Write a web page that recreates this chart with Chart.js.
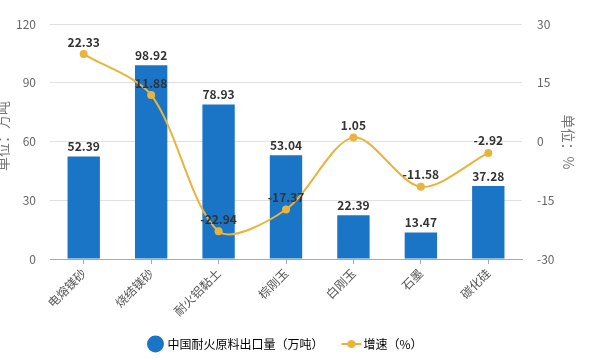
<!DOCTYPE html>
<html><head><meta charset="utf-8">
<script src="https://cdn.jsdelivr.net/npm/chart.js@4/dist/chart.umd.min.js"></script>
<style>html,body{margin:0;padding:0;background:#fff}#wrap{width:592px;height:360px}</style>
</head><body><div id="wrap"><canvas id="c" width="592" height="360"></canvas></div>
<script>
const categories = ['电熔镁砂','烧结镁砂','耐火铝黏土','棕刚玉','白刚玉','石墨','碳化硅'];
const exportVolume = [52.39, 98.92, 78.93, 53.04, 22.39, 13.47, 37.28];
const growthRate = [22.33, 11.88, -22.94, -17.37, 1.05, -11.58, -2.92];
const leftTicks = [0, 30, 60, 90, 120];
const rightTicks = [-30, -15, 0, 15, 30];
const seriesNames = ['中国耐火原料出口量（万吨）', '增速（%）'];
const axisTitles = ['单位：万吨', '单位：%'];

const BLUE = '#1b75c7', GOLD = '#e8b43e';
const FONT = '"Noto Sans CJK SC", "Noto Sans", sans-serif';

const lineIcon = document.createElement('canvas');
lineIcon.width = 22; lineIcon.height = 10;
(function(){const g=lineIcon.getContext('2d');g.strokeStyle=GOLD;g.lineWidth=2;g.beginPath();g.moveTo(1,5);g.lineTo(21,5);g.stroke();g.fillStyle=GOLD;g.beginPath();g.arc(11,5,4,0,Math.PI*2);g.fill();})();

const labelPlugin = {
  id: 'valueLabels',
  afterDatasetsDraw(chart) {
    const ctx = chart.ctx;
    ctx.save();
    ctx.font = 'bold 12px ' + FONT;
    ctx.fillStyle = '#333';
    ctx.textAlign = 'center';
    ctx.textBaseline = 'middle';
    chart.getDatasetMeta(0).data.forEach((el, i) => {
      ctx.fillText(exportVolume[i].toFixed(2), el.x, el.y - 10);
    });
    chart.getDatasetMeta(1).data.forEach((el, i) => {
      ctx.fillText(growthRate[i].toFixed(2), el.x, el.y - 12);
    });
    ctx.font = '14px ' + FONT;
    ctx.fillStyle = '#777';
    ctx.save(); ctx.translate(3, 136); ctx.rotate(-Math.PI/2); ctx.fillText(axisTitles[0], 0, 0); ctx.restore();
    ctx.save(); ctx.translate(568, 142); ctx.rotate(Math.PI/2); ctx.fillText(axisTitles[1], 0, 0); ctx.restore();
    ctx.restore();
  }
};

new Chart(document.getElementById('c'), {
  data: {
    labels: categories,
    datasets: [
      { type: 'bar', label: seriesNames[0], data: exportVolume, backgroundColor: BLUE, yAxisID: 'y', order: 2,
        barPercentage: 0.96, categoryPercentage: 0.5 },
      { type: 'line', label: seriesNames[1], data: growthRate, borderColor: GOLD, backgroundColor: GOLD, borderWidth: 2,
        pointRadius: 4, pointBackgroundColor: GOLD, pointBorderWidth: 0, tension: 0.3, yAxisID: 'y1', order: 1 }
    ]
  },
  options: {
    responsive: false, animation: false,
    layout: { padding: { top: 24, bottom: 0, left: 0, right: 0 } },
    plugins: {
      tooltip: { enabled: false },
      legend: {
        position: 'bottom', fullSize: false,
        labels: {
          usePointStyle: true, padding: 4, color: '#333',
          font: { family: FONT, size: 12 },
          generateLabels: () => [
            { text: seriesNames[0] + '\u3000\u3000', pointStyle: 'circle', fillStyle: BLUE, strokeStyle: BLUE, lineWidth: 0, datasetIndex: 0 },
            { text: seriesNames[1], pointStyle: lineIcon, fillStyle: GOLD, strokeStyle: GOLD, lineWidth: 0, datasetIndex: 1 }
          ]
        }
      }
    },
    scales: {
      x: {
        offset: true,
        grid: { display: true, drawOnChartArea: false, drawTicks: true, tickLength: 5, color: '#aaa', offset: false },
        border: { color: '#aaa' },
        ticks: { color: '#555', font: { family: FONT, size: 12 }, minRotation: 45, maxRotation: 45, padding: 2 },
        afterFit: s => { s.height = 75; }
      },
      y: {
        position: 'left', min: 0, max: 120,
        afterBuildTicks: s => { s.ticks = leftTicks.map(v => ({ value: v })); },
        grid: { color: '#e0e0e0', drawTicks: false },
        border: { display: false },
        ticks: { color: '#666', font: { family: FONT, size: 12 }, padding: 14 },
        afterFit: s => { s.width = 50; }
      },
      y1: {
        position: 'right', min: -30, max: 30,
        afterBuildTicks: s => { s.ticks = rightTicks.map(v => ({ value: v })); },
        grid: { drawOnChartArea: false, drawTicks: false },
        border: { display: false },
        ticks: { color: '#666', font: { family: FONT, size: 12 }, padding: 15 },
        afterFit: s => { s.width = 70; }
      }
    }
  },
  plugins: [labelPlugin]
});
</script></body></html>
